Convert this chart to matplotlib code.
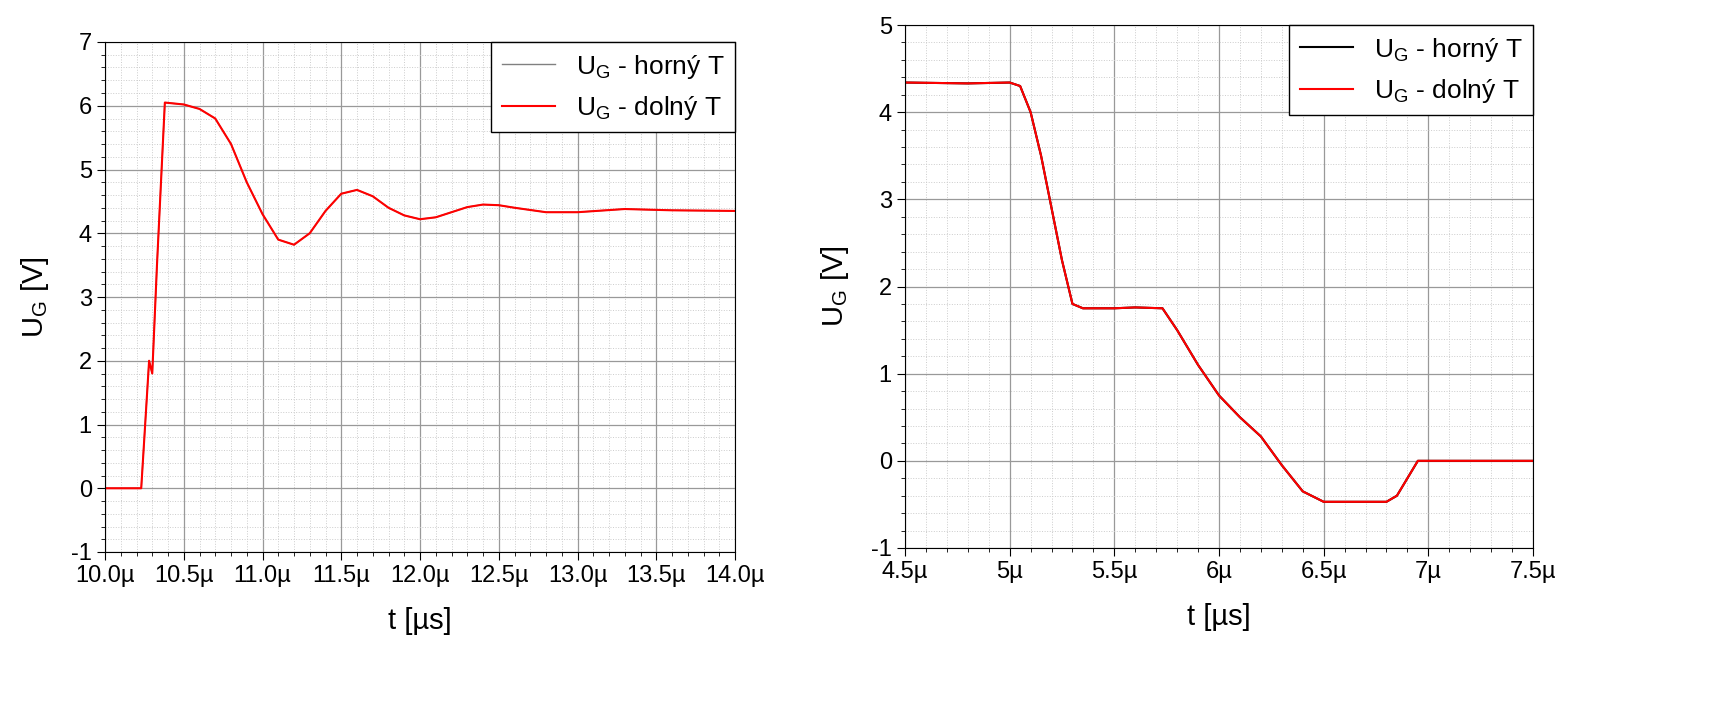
import matplotlib
matplotlib.use("Agg")
import matplotlib.pyplot as plt
from matplotlib.ticker import MultipleLocator, FuncFormatter

plt.rcParams['font.family'] = ['Liberation Sans', 'DejaVu Sans']
plt.rcParams['font.size'] = 15
plt.rcParams['axes.unicode_minus'] = False
plt.rcParams['mathtext.default'] = 'regular'

# left plot: turn-on
t_on = [10.0, 10.23, 10.28, 10.3, 10.33, 10.38, 10.5, 10.6, 10.7, 10.8, 10.9, 11.0, 11.1, 11.2,
        11.3, 11.4, 11.5, 11.6, 11.7, 11.8, 11.9, 12.0, 12.1, 12.2, 12.3, 12.4, 12.5, 12.6, 12.8,
        13.0, 13.3, 13.6, 14.0]
u_on = [0, 0, 2.0, 1.8, 3.5, 6.05, 6.02, 5.95, 5.8, 5.4, 4.8, 4.3, 3.9, 3.82,
        4.0, 4.35, 4.62, 4.68, 4.58, 4.4, 4.28, 4.22, 4.25, 4.33, 4.41, 4.45, 4.44, 4.4, 4.33,
        4.33, 4.38, 4.36, 4.35]

# right plot: turn-off
t_off = [4.5, 4.8, 5.0, 5.05, 5.1, 5.15, 5.2, 5.25, 5.3, 5.35, 5.5, 5.6, 5.73, 5.8, 5.9, 6.0,
         6.1, 6.2, 6.3, 6.4, 6.5, 6.6, 6.8, 6.85, 6.95, 7.0, 7.5]
u_off = [4.34, 4.33, 4.34, 4.3, 4.0, 3.5, 2.9, 2.3, 1.8, 1.75, 1.75, 1.76, 1.75, 1.5, 1.1, 0.75,
         0.5, 0.28, -0.05, -0.35, -0.47, -0.47, -0.47, -0.4, 0.0, 0.0, 0.0]

fig = plt.figure(figsize=(17.29, 7.11), dpi=100)
ax1 = fig.add_axes([105/1729, 1-552/711, 630/1729, 510/711])
ax2 = fig.add_axes([905/1729, 1-548/711, 628/1729, 523/711])

def style(ax, fmt):
    ax.xaxis.set_major_locator(MultipleLocator(0.5))
    ax.xaxis.set_minor_locator(MultipleLocator(0.1))
    ax.yaxis.set_major_locator(MultipleLocator(1))
    ax.yaxis.set_minor_locator(MultipleLocator(0.2))
    ax.xaxis.set_major_formatter(FuncFormatter(fmt))
    ax.grid(which='major', color='#999999', lw=0.9)
    ax.grid(which='minor', color='#cccccc', lw=0.7, ls=':')
    ax.tick_params(which='both', direction='out', labelsize=17)
    ax.tick_params(which='major', length=6)
    ax.tick_params(which='minor', length=3)
    ax.set_axisbelow(True)
    ax.set_xlabel('t [µs]', fontsize=21, labelpad=14)
    ax.set_ylabel('U$_G$ [V]', fontsize=21, labelpad=14)

ax1.plot(t_on, u_on, color='gray', lw=1, label='U$_G$ - horný T')
ax1.plot(t_on, u_on, color='red', lw=1.5, label='U$_G$ - dolný T')
ax1.set_xlim(10.0, 14.0)
ax1.set_ylim(-1, 7)
style(ax1, lambda v, p: f"{v:.1f}µ")
ax1.legend(loc='upper right', fontsize=19, fancybox=False, edgecolor='black',
           borderaxespad=0, framealpha=1)

ax2.plot(t_off, u_off, color='black', lw=1.5, label='U$_G$ - horný T')
ax2.plot(t_off, u_off, color='red', lw=1.5, label='U$_G$ - dolný T')
ax2.set_xlim(4.5, 7.5)
ax2.set_ylim(-1, 5)
style(ax2, lambda v, p: f"{v:g}µ")
ax2.legend(loc='upper right', fontsize=19, fancybox=False, edgecolor='black',
           borderaxespad=0, framealpha=1)

fig.savefig('out.png', dpi=100)
